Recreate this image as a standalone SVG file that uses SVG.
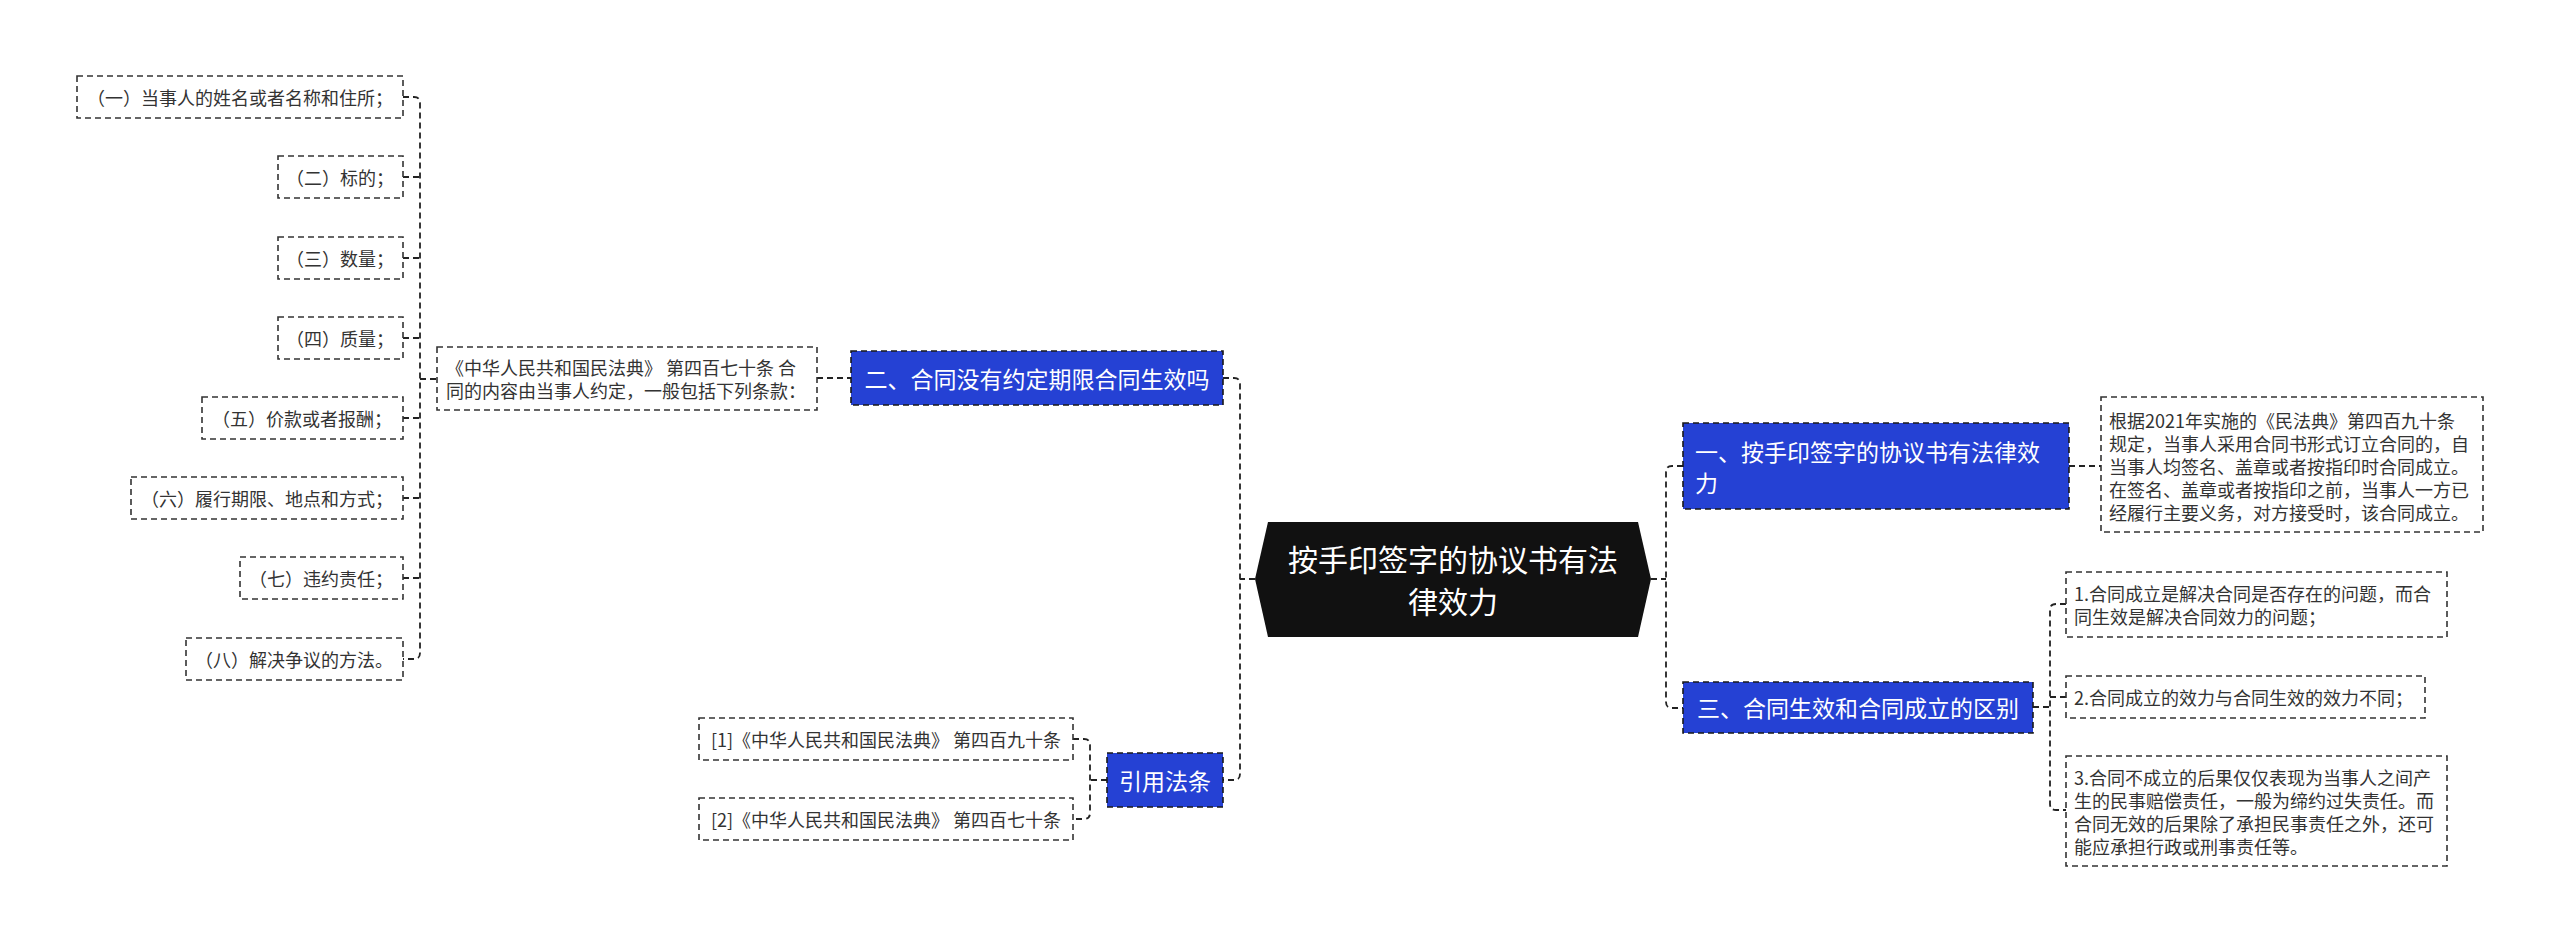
<svg xmlns="http://www.w3.org/2000/svg" width="2560" height="945" viewBox="0 0 2560 945">
<defs>
<style>
.leaf{fill:#ffffff;stroke:#333333;stroke-width:1.6;stroke-dasharray:6 4}
.blue{fill:#2541d4;stroke:#1a1a1a;stroke-width:1.6;stroke-dasharray:6 4}
.lt{font-family:"Noto Sans CJK SC","Noto Sans",sans-serif;font-size:18px;fill:#333333;dominant-baseline:central}
.bt{font-family:"Noto Sans CJK SC","Noto Sans",sans-serif;font-size:23px;fill:#ffffff;dominant-baseline:central}
.ct{font-family:"Noto Sans CJK SC","Noto Sans",sans-serif;font-size:30px;fill:#ffffff;dominant-baseline:central;text-anchor:middle}
.mid{text-anchor:middle}
.con{fill:none;stroke:#222222;stroke-width:1.8;stroke-dasharray:6 4}
</style>
</defs>
<rect x="0" y="0" width="2560" height="945" fill="#ffffff"/>
<g id="connectors">
<path class="con" d="M403 97 H414 Q420 97 420 103 V653 Q420 659 414 659 H403"/>
<path class="con" d="M403 177 H420 M403 258 H420 M403 338 H420 M403 418 H420 M403 498 H420 M403 578 H420"/>
<path class="con" d="M420 379 H437"/>
<path class="con" d="M817 378 H851"/>
<path class="con" d="M1223 378 H1234 Q1240 378 1240 384 V774 Q1240 780 1234 780 H1223"/>
<path class="con" d="M1255 579 H1240"/>
<path class="con" d="M1073 739 H1084 Q1090 739 1090 745 V813 Q1090 819 1084 819 H1073"/>
<path class="con" d="M1107 780 H1090"/>
<path class="con" d="M1651 579 H1666"/>
<path class="con" d="M1683 466 H1672 Q1666 466 1666 472 V702 Q1666 708 1672 708 H1683"/>
<path class="con" d="M2069 466 H2101"/>
<path class="con" d="M2033 707 H2050"/>
<path class="con" d="M2066 604 H2056 Q2050 604 2050 610 V804 Q2050 810 2056 810 H2066"/>
<path class="con" d="M2050 697 H2066"/>
</g>
<g id="center">
<polygon points="1268,522 1638,522 1651,579 1638,637 1268,637 1255,579" fill="#111111"/>
<text class="ct" x="1453" y="558">按手印签字的协议书有法</text>
<text class="ct" x="1453" y="600">律效力</text>
</g>
<g id="n-er">
<rect class="blue" x="851" y="351" width="372" height="54"/>
<text class="bt mid" x="1037" y="378">二、合同没有约定期限合同生效吗</text>
</g>
<g id="n-zhonghua">
<rect class="leaf" x="437" y="347" width="380" height="63"/>
<text class="lt" x="446" y="367">《中华人民共和国民法典》 第四百七十条 合</text>
<text class="lt" x="446" y="390">同的内容由当事人约定，一般包括下列条款：</text>
</g>
<g id="l1"><rect class="leaf" x="77" y="76" width="326" height="42"/><text class="lt mid" x="240" y="97">（一）当事人的姓名或者名称和住所；</text></g>
<g id="l2"><rect class="leaf" x="278" y="156" width="125" height="42"/><text class="lt mid" x="340" y="177">（二）标的；</text></g>
<g id="l3"><rect class="leaf" x="278" y="237" width="125" height="42"/><text class="lt mid" x="340" y="258">（三）数量；</text></g>
<g id="l4"><rect class="leaf" x="278" y="317" width="125" height="42"/><text class="lt mid" x="340" y="338">（四）质量；</text></g>
<g id="l5"><rect class="leaf" x="202" y="397" width="201" height="42"/><text class="lt mid" x="302" y="418">（五）价款或者报酬；</text></g>
<g id="l6"><rect class="leaf" x="131" y="477" width="272" height="42"/><text class="lt mid" x="267" y="498">（六）履行期限、地点和方式；</text></g>
<g id="l7"><rect class="leaf" x="240" y="557" width="163" height="42"/><text class="lt mid" x="321" y="578">（七）违约责任；</text></g>
<g id="l8"><rect class="leaf" x="186" y="638" width="217" height="42"/><text class="lt mid" x="294" y="659">（八）解决争议的方法。</text></g>
<g id="n-yinyong">
<rect class="blue" x="1107" y="753" width="116" height="54"/>
<text class="bt mid" x="1165" y="780">引用法条</text>
</g>
<g id="r1"><rect class="leaf" x="699" y="718" width="374" height="42"/><text class="lt mid" x="886" y="739">[1]《中华人民共和国民法典》 第四百九十条</text></g>
<g id="r2"><rect class="leaf" x="699" y="798" width="374" height="42"/><text class="lt mid" x="886" y="819">[2]《中华人民共和国民法典》 第四百七十条</text></g>
<g id="n-yi">
<rect class="blue" x="1683" y="423" width="386" height="86"/>
<text class="bt" x="1695" y="451">一、按手印签字的协议书有法律效</text>
<text class="bt" x="1695" y="482">力</text>
</g>
<g id="d-yi">
<rect class="leaf" x="2101" y="397" width="382" height="135"/>
<text class="lt" x="2109" y="420">根据2021年实施的《民法典》第四百九十条</text>
<text class="lt" x="2109" y="443">规定，当事人采用合同书形式订立合同的，自</text>
<text class="lt" x="2109" y="466">当事人均签名、盖章或者按指印时合同成立。</text>
<text class="lt" x="2109" y="489">在签名、盖章或者按指印之前，当事人一方已</text>
<text class="lt" x="2109" y="512">经履行主要义务，对方接受时，该合同成立。</text>
</g>
<g id="n-san">
<rect class="blue" x="1683" y="682" width="350" height="51"/>
<text class="bt mid" x="1858" y="707">三、合同生效和合同成立的区别</text>
</g>
<g id="i1">
<rect class="leaf" x="2066" y="572" width="381" height="65"/>
<text class="lt" x="2074" y="593">1.合同成立是解决合同是否存在的问题，而合</text>
<text class="lt" x="2074" y="616">同生效是解决合同效力的问题；</text>
</g>
<g id="i2">
<rect class="leaf" x="2066" y="676" width="359" height="42"/>
<text class="lt" x="2074" y="697">2.合同成立的效力与合同生效的效力不同；</text>
</g>
<g id="i3">
<rect class="leaf" x="2066" y="756" width="381" height="110"/>
<text class="lt" x="2074" y="777">3.合同不成立的后果仅仅表现为当事人之间产</text>
<text class="lt" x="2074" y="800">生的民事赔偿责任，一般为缔约过失责任。而</text>
<text class="lt" x="2074" y="823">合同无效的后果除了承担民事责任之外，还可</text>
<text class="lt" x="2074" y="846">能应承担行政或刑事责任等。</text>
</g>
</svg>
